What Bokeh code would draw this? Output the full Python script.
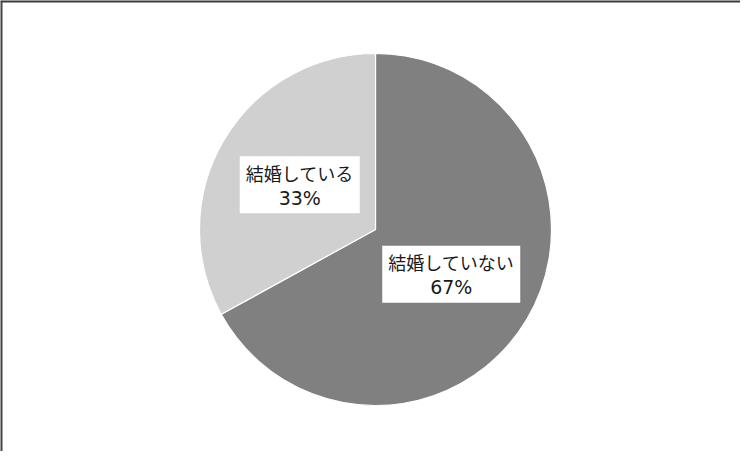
import numpy as np
from bokeh.plotting import figure
from bokeh.models import ColumnDataSource, Range1d, Span
from bokeh.core.properties import value
from bokeh.embed import file_html
from bokeh.resources import INLINE

categories = ["結婚していない", "結婚している"]
values = [67, 33]
pct_labels = ["67%", "33%"]
colors = ["#808080", "#d0d0d0"]

W, H = 740, 451
R = 176
cx, cy = 375, 229  # pie centre in figure pixels (from top-left)

p = figure(width=W, height=H, output_backend="svg", toolbar_location=None,
           x_range=Range1d(-cx, W - cx), y_range=Range1d(-(H - cy), cy),
           min_border=0, outline_line_color=None)
p.axis.visible = False
p.grid.visible = False
p.background_fill_color = "white"
p.border_fill_color = "white"

vals = np.array(values, dtype=float)
frac = vals / vals.sum()
cum = np.concatenate([[0], np.cumsum(frac)])
# clockwise from 12 o'clock
start = np.pi / 2 - 2 * np.pi * cum[1:]
end = np.pi / 2 - 2 * np.pi * cum[:-1]
mid = (start + end) / 2
box_w = [len(c) * 18 + 12 for c in categories]

src = ColumnDataSource(dict(start=start, end=end, color=colors,
                            lx=0.5 * R * np.cos(mid), ly=0.5 * R * np.sin(mid),
                            cat=categories, pct=pct_labels, bw=box_w))

p.wedge(x=0, y=0, radius=R, start_angle="start", end_angle="end",
        fill_color="color", line_color="white", line_width=1.2, source=src)

p.rect(x="lx", y="ly", width="bw", height=57, width_units="screen",
       height_units="screen", fill_color="white", line_color=None, source=src)

p.text(x="lx", y="ly", text="cat", source=src, y_offset=-12,
       text_font=value("Noto Sans CJK JP"), text_font_size="18px",
       text_color="#1a1a1a", text_align="center", text_baseline="middle")
p.text(x="lx", y="ly", text="pct", source=src, y_offset=13,
       text_font=value("DejaVu Sans"), text_font_size="19px",
       text_color="#1a1a1a", text_align="center", text_baseline="middle")

p.add_layout(Span(location=cy, dimension="width", line_color="#3a3a3a", line_width=4))
p.add_layout(Span(location=-cx, dimension="height", line_color="#444444", line_width=4))

open("out.html", "w").write(file_html(p, INLINE))
